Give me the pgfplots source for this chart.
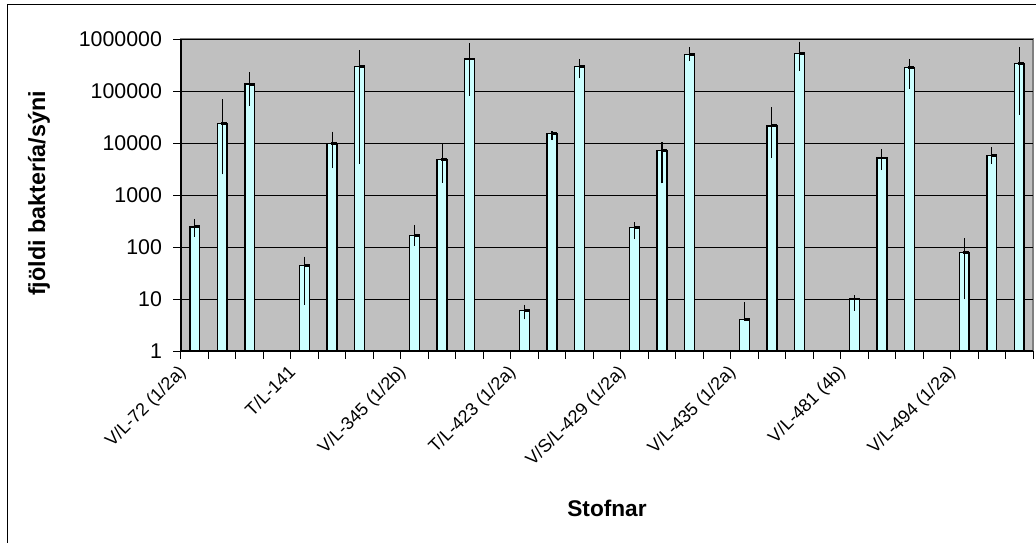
\documentclass[border=0pt]{standalone}
\usepackage{pgfplots}
\usepackage{pgfplotstable}
\pgfplotsset{compat=1.18}
\usepackage{fontspec}
\setmainfont{Liberation Sans}
\definecolor{plotgray}{HTML}{C0C0C0}
\definecolor{bordergray}{HTML}{808080}
\definecolor{barcyan}{HTML}{CCFFFF}
\pgfplotstableread{
x y ep em
1 245 101 87
2 23900 45100 21400
3 136000 93000 84500
5 43.7 21.3 36
6 9800 6700 6550
7 299000 315000 295050
9 168 97 62
10 4870 4730 3140
11 412000 418000 331000
13 5.96 1.74 1.89
14 15400 1600 4000
15 299000 108000 124000
17 235 64 94
18 7100 3200 5430
19 500000 190000 117000
21 4.07 4.6 0
22 21300 27700 16200
23 531000 359000 288000
25 10 1.9 4.1
26 5150 2520 2130
27 280000 127000 170000
29 77.8 69 68
30 5800 2500 1850
31 340000 350000 305000
}\data
\begin{document}
\begin{tikzpicture}
\begin{axis}[
  at={(135.75pt,-263.25pt)}, anchor=south west,
  scale only axis, width=639pt, height=234pt,
  ymode=log, ymin=1, ymax=1000000, log origin=0,
  xmin=0.5, xmax=31.5,
  ybar, bar width=7.4pt,
  axis background/.style={fill=plotgray, draw=bordergray, line width=0.9pt},
  axis x line*=bottom, axis y line*=left,
  axis line style={black, line width=0.9pt},
  ymajorgrids, major grid style={black, line width=0.75pt},
  minor tick length=0pt, yminorgrids=false,
  ytick={1,10,100,1000,10000,100000,1000000},
  yticklabels={1,10,100,1000,10000,100000,1000000},
  tick align=outside, major tick length=5.8pt,
  tick style={black, line width=0.75pt},
  yticklabel style={font=\fontsize{16}{18}\selectfont, xshift=-5pt},
  xtick={0.5,1.5,...,31.5}, xticklabels={},
  extra x ticks={1,5,9,13,17,21,25,29},
  extra x tick labels={V/L-72 (1/2a),T/L-141,V/L-345 (1/2b),T/L-423 (1/2a),V/S/L-429 (1/2a),V/L-435 (1/2a),V/L-481 (4b),V/L-494 (1/2a)},
  extra x tick style={major tick length=0pt, xticklabel style={font=\fontsize{13.5}{15}\selectfont, inner sep=0pt, xshift=-13pt, yshift=-9.5pt, anchor=north east, rotate=45}},
  xlabel={Stofnar},
  xlabel style={at={(axis description cs:0.5,-0.503)}, anchor=center, font=\bfseries\fontsize{17}{20}\selectfont},
  ylabel={fjöldi baktería/sýni},
  ylabel style={at={(axis description cs:-0.1667,0.505)}, anchor=center, font=\bfseries\fontsize{17.5}{20}\selectfont},
]
\addplot[fill=barcyan, draw=black, line width=1.1pt,
  error bars/.cd, y dir=both, y explicit, error mark=none,
  error bar style={black, line width=0.8pt}]
  table[x=x, y=y, y error plus=ep, y error minus=em] {\data};
\addplot[only marks, mark=-, mark size=2.25pt,
  mark options={black, line width=2.2pt, xshift=1.6pt}]
  table[x=x, y=y] {\data};
\end{axis}
\draw[line width=1pt] (5.6pt,-3.4pt) rectangle (800pt,-430pt);
\pgfresetboundingbox
\path[use as bounding box] (0,0) rectangle (777pt,-407.25pt);
\end{tikzpicture}
\end{document}
